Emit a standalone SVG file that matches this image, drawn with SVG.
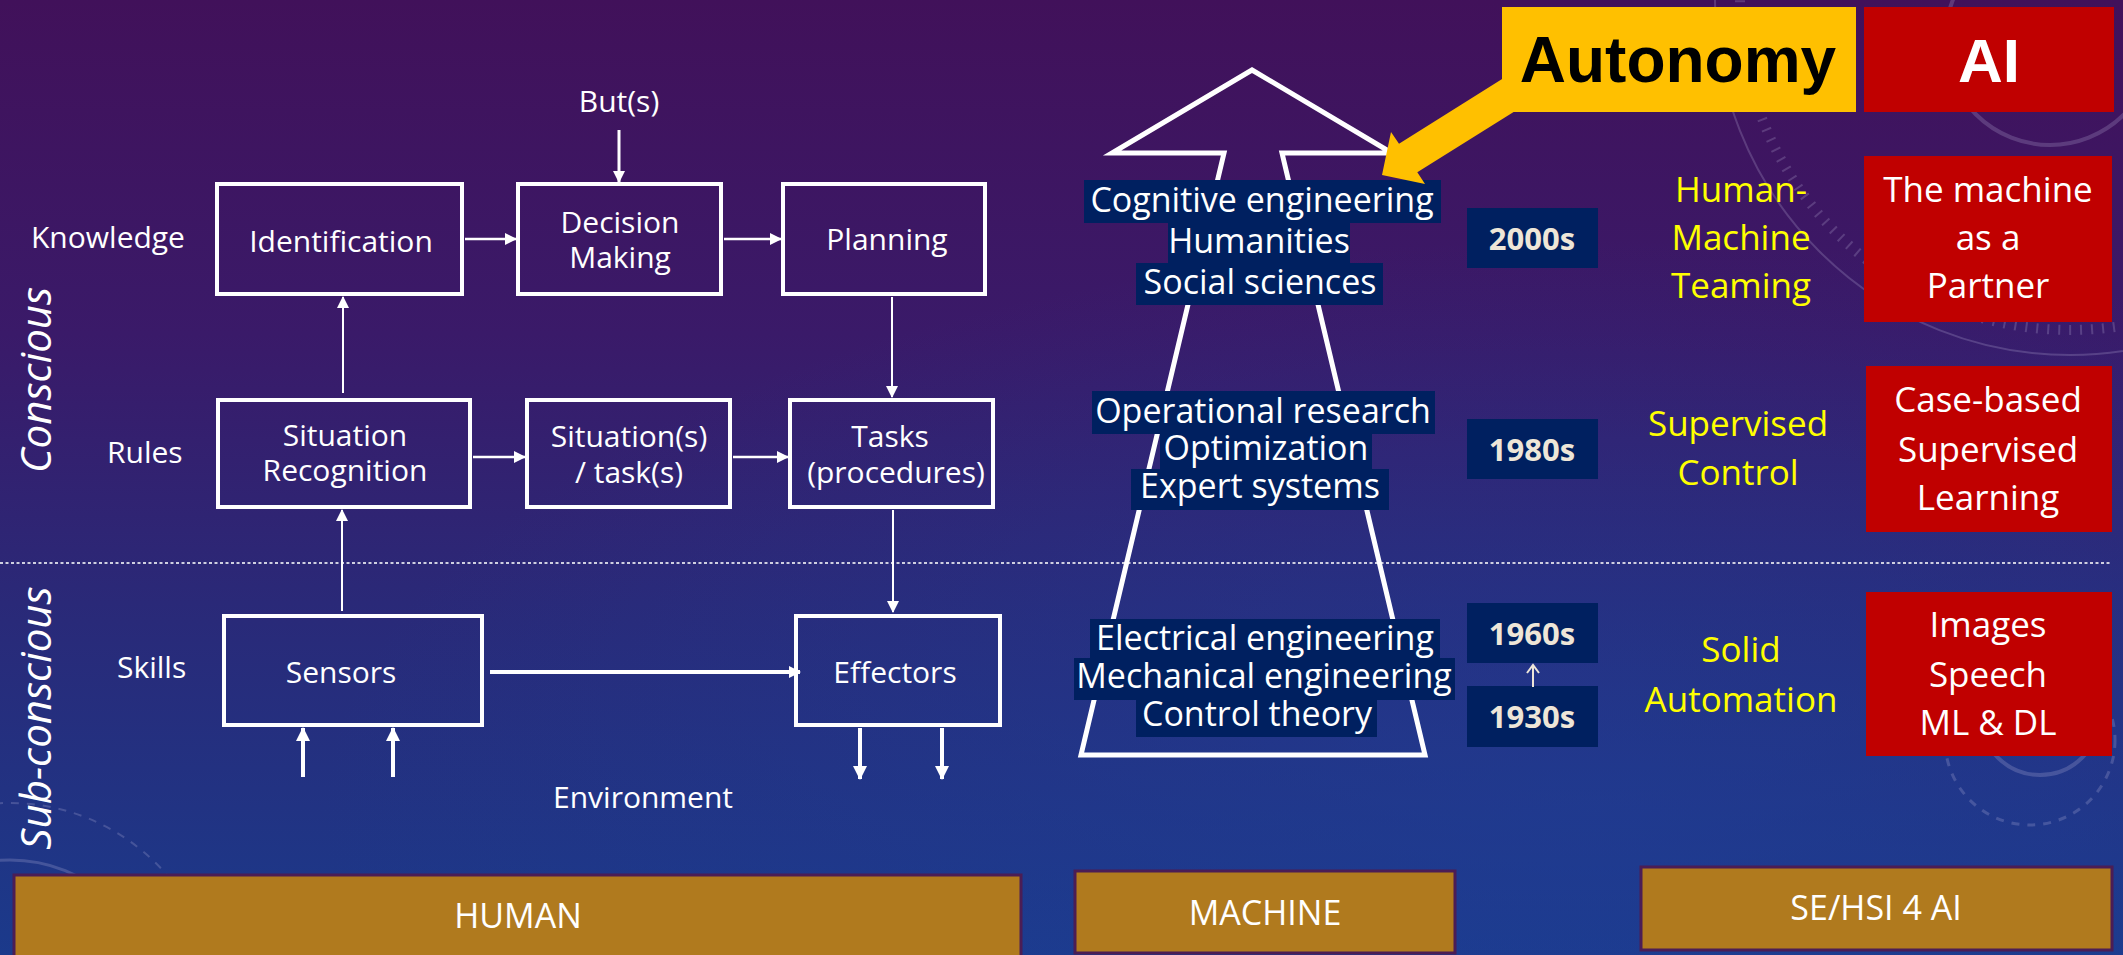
<svg xmlns="http://www.w3.org/2000/svg" width="2123" height="955" viewBox="0 0 2123 955">
  <defs>
    <linearGradient id="bg" x1="0" y1="0" x2="0" y2="1">
      <stop offset="0" stop-color="#41115a"/>
      <stop offset="0.35" stop-color="#3a1a69"/>
      <stop offset="0.65" stop-color="#292a79"/>
      <stop offset="1" stop-color="#1b3a8b"/>
    </linearGradient>
    <radialGradient id="glow" cx="0.75" cy="0.85" r="0.6">
      <stop offset="0" stop-color="#1f3f98" stop-opacity="0.55"/>
      <stop offset="1" stop-color="#1f3f98" stop-opacity="0"/>
    </radialGradient>
    <marker id="ah" markerUnits="userSpaceOnUse" markerWidth="12" markerHeight="12" refX="11" refY="6" orient="auto">
      <path d="M0,0 L12,6 L0,12 z" fill="#ffffff"/>
    </marker>
    <marker id="ahb" markerUnits="userSpaceOnUse" markerWidth="14" markerHeight="14" refX="13" refY="7" orient="auto">
      <path d="M0,0 L14,7 L0,14 z" fill="#ffffff"/>
    </marker>
    <style>
      .t { font-family: "Open Sans", "Noto Sans", "Liberation Sans", sans-serif; fill: #ffffff; }
      .box { fill: none; stroke: #ffffff; stroke-width: 4; }
      .lbl { font-size: 30px; }
      .bt { font-size: 30px; text-anchor: middle; }
      .mt { font-size: 34px; text-anchor: middle; }
      .hl { fill: #002060; }
      .era { fill: #002060; }
      .erat { font-family: "Open Sans", "Liberation Sans", sans-serif; font-weight: bold; font-size: 31px; fill: #eee6d8; text-anchor: middle; }
      .yl { font-family: "Open Sans", "Noto Sans", sans-serif; font-size: 35px; fill: #ffff00; text-anchor: middle; }
      .red { fill: #c00000; }
      .rt { font-size: 35px; text-anchor: middle; }
      .bar { fill: #b07a1e; stroke: #4b1d55; stroke-width: 3; }
      .bart { font-size: 34px; text-anchor: middle; }
      .rot { font-size: 42px; font-style: italic; text-anchor: middle; }
      .c { fill: none; stroke: #ffffff; }
      .thin { stroke-width: 2.5; }
      .thick { stroke-width: 4; }
      .deco { fill: none; stroke: #c9c3e6; }
    </style>
  </defs>

  <!-- background -->
  <rect x="0" y="0" width="2123" height="955" fill="url(#bg)"/>
  <rect x="0" y="0" width="2123" height="955" fill="url(#glow)"/>

  <!-- faint background rings -->
  <g id="decor" opacity="0.22">
    <circle class="deco" cx="2070" cy="0" r="355" stroke-width="2"/>
    <circle class="deco" cx="2070" cy="0" r="330" stroke-width="10" stroke-dasharray="2 9"/>
    <circle class="deco" cx="2050" cy="40" r="105" stroke-width="4"/>
    <circle class="deco" cx="2030" cy="740" r="85" stroke-width="3" stroke-dasharray="8 8"/>
    <circle class="deco" cx="2040" cy="715" r="60" stroke-width="4"/>
    <circle class="deco" cx="10" cy="1010" r="150" stroke-width="3"/>
    <circle class="deco" cx="10" cy="1010" r="207" stroke-width="2" stroke-dasharray="8 8"/>
  </g>

  <!-- conscious / sub-conscious divider -->
  <line x1="0" y1="563" x2="2111" y2="563" stroke="#cfcfe0" stroke-width="2" stroke-dasharray="3 2.5"/>

  <!-- level labels -->
  <g id="levels">
    <text class="t rot" transform="translate(51,380) rotate(-90)">Conscious</text>
    <text class="t rot" transform="translate(51,718) rotate(-90)">Sub-conscious</text>
    <text class="t lbl" x="31" y="248">Knowledge</text>
    <text class="t lbl" x="107" y="463">Rules</text>
    <text class="t lbl" x="117" y="678">Skills</text>
    <text class="t lbl" x="619" y="112" text-anchor="middle">But(s)</text>
    <text class="t lbl" x="553" y="808">Environment</text>
  </g>

  <!-- human cognition nodes -->
  <g id="identification">
    <rect class="box" x="217" y="184" width="245" height="110"/>
    <text class="t bt" x="341" y="252">Identification</text>
  </g>
  <g id="decision-making">
    <rect class="box" x="518" y="184" width="203" height="110"/>
    <text class="t bt" x="620" y="233">Decision</text>
    <text class="t bt" x="620" y="268">Making</text>
  </g>
  <g id="planning">
    <rect class="box" x="783" y="184" width="202" height="110"/>
    <text class="t bt" x="887" y="250">Planning</text>
  </g>
  <g id="situation-recognition">
    <rect class="box" x="218" y="400" width="252" height="107"/>
    <text class="t bt" x="345" y="446">Situation</text>
    <text class="t bt" x="345" y="481">Recognition</text>
  </g>
  <g id="situation-task">
    <rect class="box" x="527" y="400" width="203" height="107"/>
    <text class="t bt" x="629" y="447">Situation(s)</text>
    <text class="t bt" x="629" y="483">/ task(s)</text>
  </g>
  <g id="tasks">
    <rect class="box" x="790" y="400" width="203" height="107"/>
    <text class="t bt" x="890" y="447">Tasks</text>
    <text class="t bt" x="896" y="483">(procedures)</text>
  </g>
  <g id="sensors">
    <rect class="box" x="224" y="616" width="258" height="109"/>
    <text class="t bt" x="341" y="683">Sensors</text>
  </g>
  <g id="effectors">
    <rect class="box" x="796" y="616" width="204" height="109"/>
    <text class="t bt" x="895" y="683">Effectors</text>
  </g>

  <!-- connectors -->
  <g id="connectors">
    <line class="c" x1="619" y1="130" x2="619" y2="182" stroke-width="3" marker-end="url(#ah)"/>
    <line class="c thin" x1="465" y1="239" x2="516" y2="239" marker-end="url(#ah)"/>
    <line class="c thin" x1="724" y1="239" x2="781" y2="239" marker-end="url(#ah)"/>
    <line class="c" x1="892" y1="297" x2="892" y2="397" stroke-width="2" marker-end="url(#ah)"/>
    <line class="c" x1="343" y1="393" x2="343" y2="297" stroke-width="2" marker-end="url(#ah)"/>
    <line class="c thin" x1="473" y1="457" x2="525" y2="457" marker-end="url(#ah)"/>
    <line class="c thin" x1="733" y1="457" x2="788" y2="457" marker-end="url(#ah)"/>
    <line class="c" x1="893" y1="510" x2="893" y2="612" stroke-width="2" marker-end="url(#ah)"/>
    <line class="c" x1="342" y1="611" x2="342" y2="510" stroke-width="2" marker-end="url(#ah)"/>
    <line class="c thick" x1="490" y1="672" x2="800" y2="672" marker-end="url(#ah)"/>
    <line class="c thick" x1="303" y1="777" x2="303" y2="728" marker-end="url(#ahb)"/>
    <line class="c thick" x1="393" y1="777" x2="393" y2="728" marker-end="url(#ahb)"/>
    <line class="c thick" x1="860" y1="728" x2="860" y2="779" marker-end="url(#ahb)"/>
    <line class="c thick" x1="942" y1="728" x2="942" y2="779" marker-end="url(#ahb)"/>
  </g>

  <!-- machine evolution arrow -->
  <g id="machine-arrow">
    <polygon points="1252,70 1392,153 1282,153 1425,755 1081,755 1224,153 1112,153" fill="none" stroke="#ffffff" stroke-width="5" stroke-linejoin="miter"/>
  </g>

  <!-- machine disciplines -->
  <g id="disciplines-2000">
    <rect class="hl" x="1084" y="180" width="357" height="43"/>
    <rect class="hl" x="1168" y="222" width="182" height="42"/>
    <rect class="hl" x="1136" y="263" width="247" height="42"/>
    <text class="t mt" x="1262" y="212">Cognitive engineering</text>
    <text class="t mt" x="1259" y="253">Humanities</text>
    <text class="t mt" x="1260" y="294">Social sciences</text>
  </g>
  <g id="disciplines-1980">
    <rect class="hl" x="1092" y="391" width="343" height="43"/>
    <rect class="hl" x="1160" y="433" width="212" height="37"/>
    <rect class="hl" x="1131" y="469" width="258" height="41"/>
    <text class="t mt" x="1263" y="423">Operational research</text>
    <text class="t mt" x="1266" y="460">Optimization</text>
    <text class="t mt" x="1260" y="498">Expert systems</text>
  </g>
  <g id="disciplines-1930">
    <rect class="hl" x="1090" y="619" width="350" height="40"/>
    <rect class="hl" x="1074" y="658" width="381" height="42"/>
    <rect class="hl" x="1136" y="699" width="241" height="38"/>
    <text class="t mt" x="1265" y="650">Electrical engineering</text>
    <text class="t mt" x="1264" y="688">Mechanical engineering</text>
    <text class="t mt" x="1257" y="726">Control theory</text>
  </g>

  <!-- eras -->
  <g id="era-2000s">
    <rect class="era" x="1467" y="208" width="131" height="60"/>
    <text class="erat" x="1532" y="250">2000s</text>
  </g>
  <g id="era-1980s">
    <rect class="era" x="1467" y="419" width="131" height="60"/>
    <text class="erat" x="1532" y="461">1980s</text>
  </g>
  <g id="era-1960s">
    <rect class="era" x="1467" y="603" width="131" height="60"/>
    <text class="erat" x="1532" y="645">1960s</text>
  </g>
  <g id="era-1930s">
    <rect class="era" x="1467" y="686" width="131" height="61"/>
    <text class="erat" x="1532" y="728">1930s</text>
  </g>
  <g id="era-link">
    <line x1="1533" y1="687" x2="1533" y2="666" stroke="#eee6d8" stroke-width="2"/>
    <polyline points="1527,673 1533,665 1539,673" fill="none" stroke="#eee6d8" stroke-width="2"/>
  </g>

  <!-- human-system integration stages -->
  <g id="stage-teaming">
    <text class="yl" x="1741" y="202">Human-</text>
    <text class="yl" x="1741" y="250">Machine</text>
    <text class="yl" x="1741" y="298">Teaming</text>
  </g>
  <g id="stage-supervised">
    <text class="yl" x="1738" y="436">Supervised</text>
    <text class="yl" x="1738" y="485">Control</text>
  </g>
  <g id="stage-automation">
    <text class="yl" x="1741" y="662">Solid</text>
    <text class="yl" x="1741" y="712">Automation</text>
  </g>

  <!-- AI column -->
  <g id="ai-title">
    <rect class="red" x="1864" y="7" width="250" height="105"/>
    <text x="1989" y="82" text-anchor="middle" font-family="Liberation Sans, Arial, sans-serif" font-weight="bold" font-size="62" fill="#ffffff">AI</text>
  </g>
  <g id="ai-partner">
    <rect class="red" x="1864" y="156" width="248" height="166"/>
    <text class="t rt" x="1988" y="202">The machine</text>
    <text class="t rt" x="1988" y="250">as a</text>
    <text class="t rt" x="1988" y="298">Partner</text>
  </g>
  <g id="ai-supervised">
    <rect class="red" x="1866" y="366" width="246" height="166"/>
    <text class="t rt" x="1988" y="412">Case-based</text>
    <text class="t rt" x="1988" y="462">Supervised</text>
    <text class="t rt" x="1988" y="510">Learning</text>
  </g>
  <g id="ai-perception">
    <rect class="red" x="1866" y="592" width="246" height="164"/>
    <text class="t rt" x="1988" y="637">Images</text>
    <text class="t rt" x="1988" y="687">Speech</text>
    <text class="t rt" x="1988" y="735">ML &amp; DL</text>
  </g>

  <!-- autonomy callout -->
  <g id="autonomy">
    <polygon points="1526,64 1399,143.7 1391,132 1382,175 1425,184 1417.3,172.3 1544,93" fill="#ffc000"/>
    <rect x="1502" y="7" width="354" height="105" fill="#ffc000"/>
    <text x="1678" y="82" text-anchor="middle" font-family="Liberation Sans, Arial, sans-serif" font-weight="bold" font-size="64" fill="#000000">Autonomy</text>
  </g>

  <!-- column captions -->
  <g id="bar-human">
    <rect class="bar" x="14" y="875" width="1007" height="83"/>
    <text class="t bart" x="518" y="928">HUMAN</text>
  </g>
  <g id="bar-machine">
    <rect class="bar" x="1075" y="871" width="380" height="82"/>
    <text class="t bart" x="1265" y="925">MACHINE</text>
  </g>
  <g id="bar-sehsi">
    <rect class="bar" x="1641" y="867" width="471" height="83"/>
    <text class="t bart" x="1876" y="920">SE/HSI 4 AI</text>
  </g>
</svg>
